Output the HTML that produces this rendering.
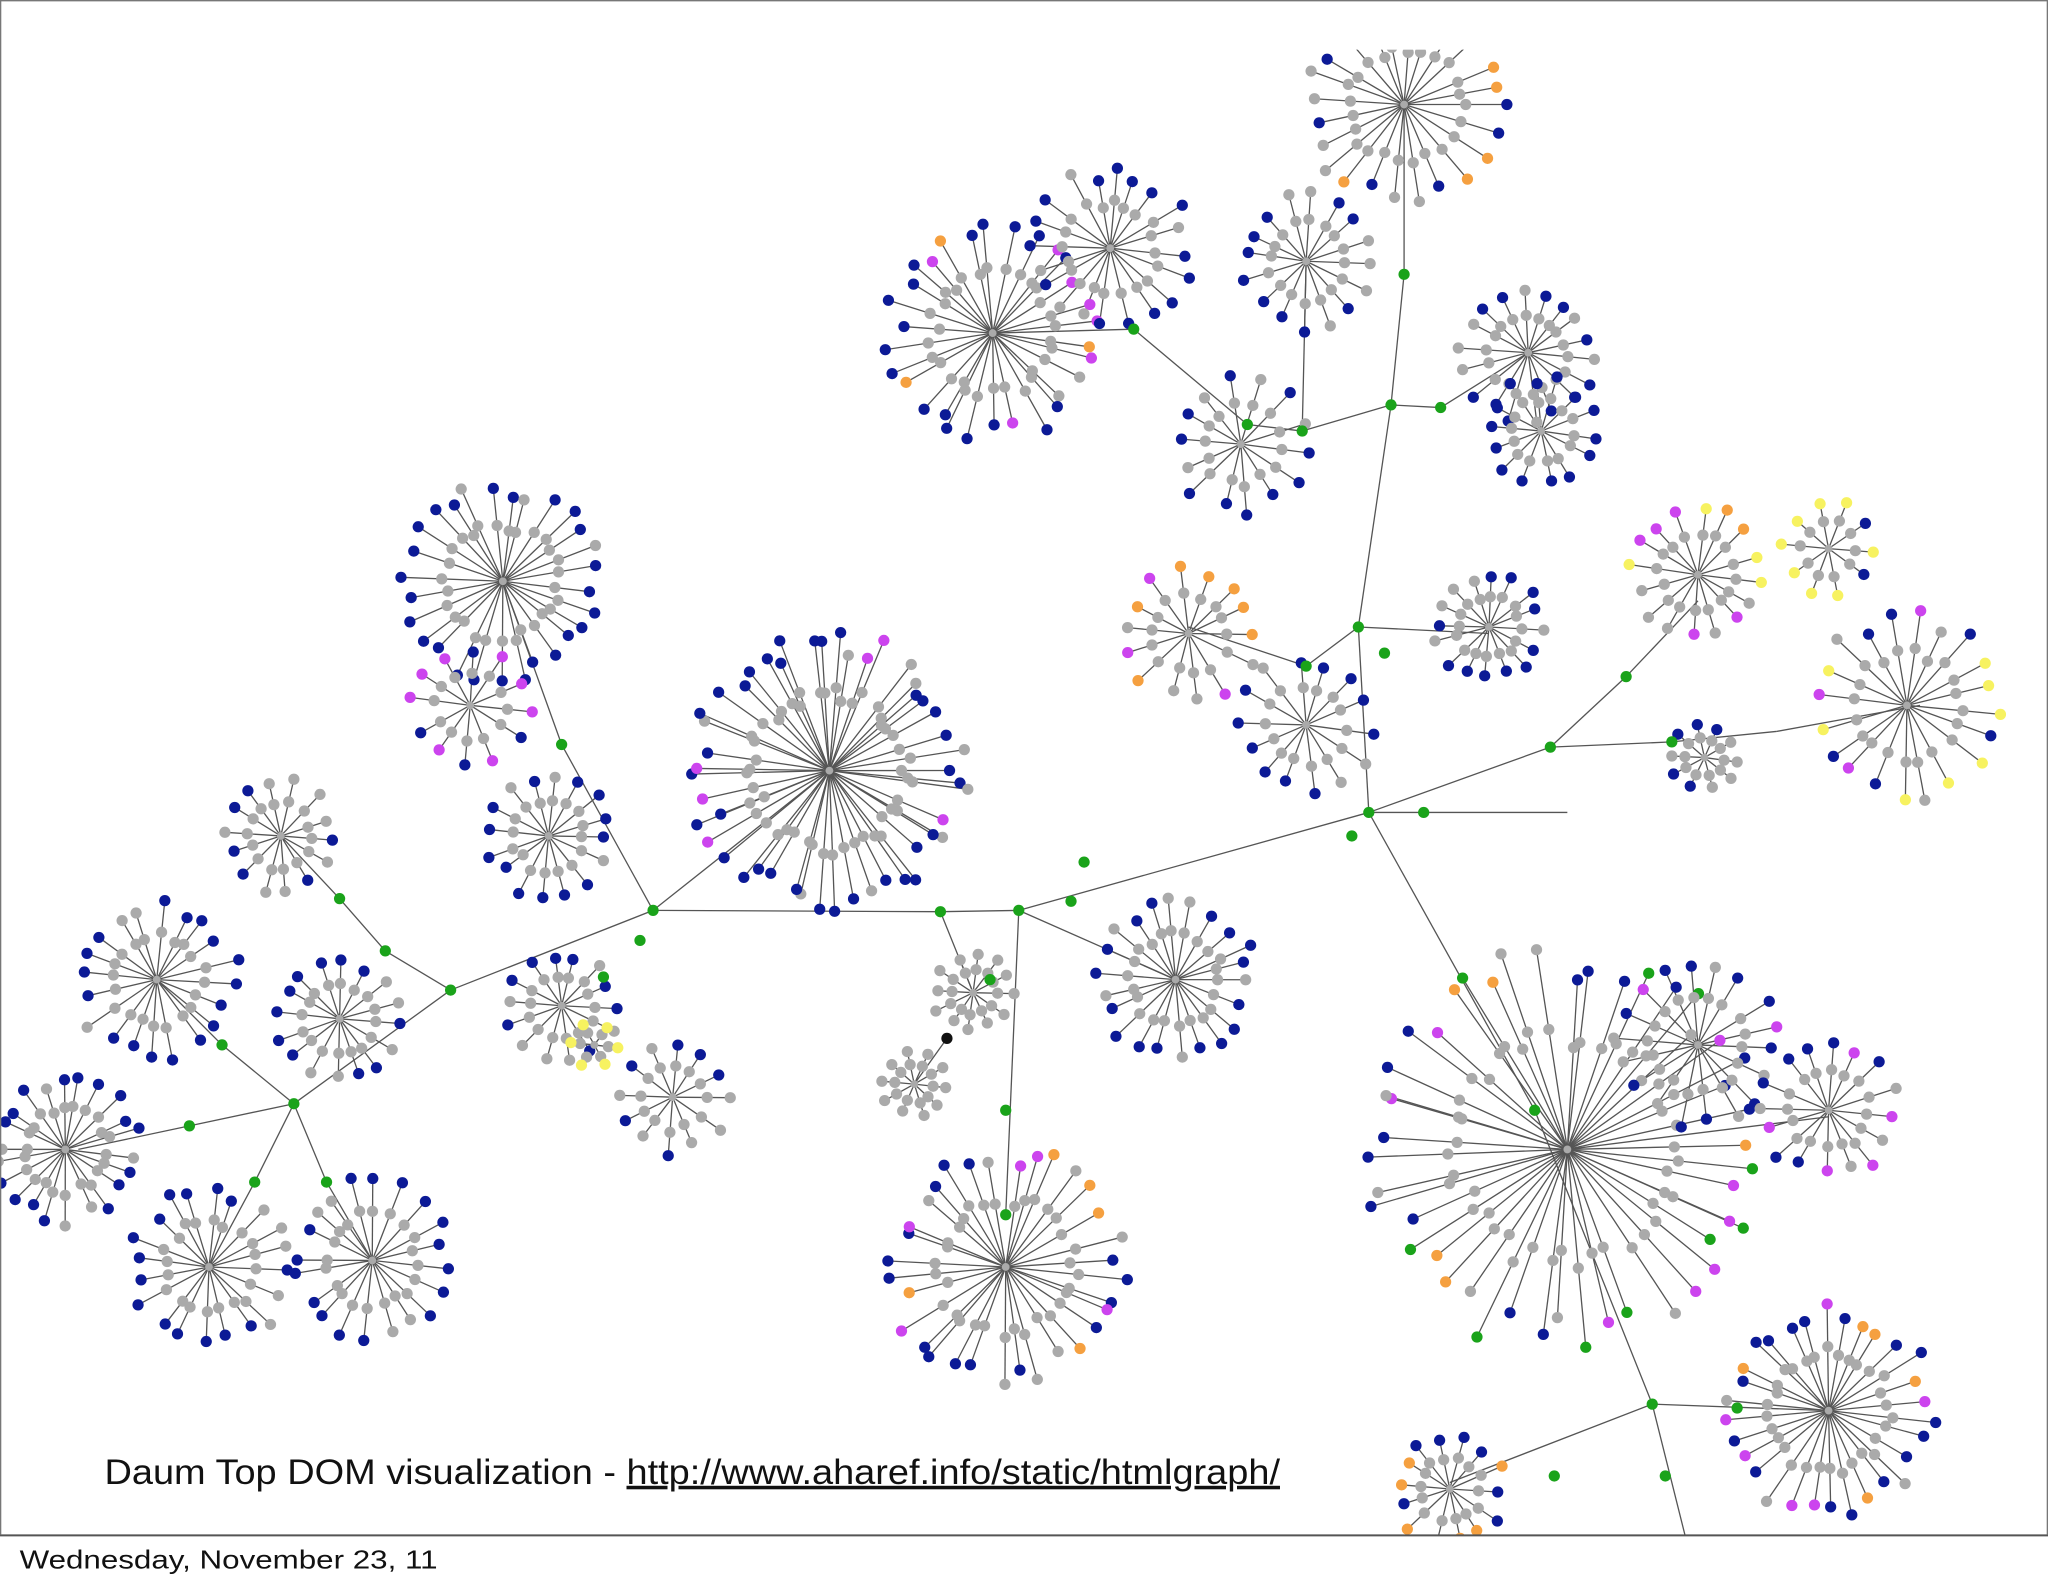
<!DOCTYPE html>
<html><head><meta charset="utf-8"><style>
html,body{margin:0;padding:0;background:#fff;}
svg{display:block;}
</style></head><body>
<svg id="s" xmlns="http://www.w3.org/2000/svg" width="2048" height="1587" viewBox="0 0 1568 1215">
<rect x="0" y="0" width="1568" height="1215" fill="#fff"/>
<g id="edges" stroke="#555" stroke-width="1" fill="none"></g>
<g id="nodes"></g>
<rect x="0" y="1176" width="1568" height="40" fill="#fff"/>
<rect x="0" y="0" width="1568" height="38" fill="#fff"/>
<line x1="0" y1="1175.5" x2="1568" y2="1175.5" stroke="#555" stroke-width="1.5"/>
<line x1="0.5" y1="0" x2="0.5" y2="1175" stroke="#777" stroke-width="1"/>
<line x1="0" y1="0.5" x2="1568" y2="0.5" stroke="#777" stroke-width="1"/>
<line x1="1567.5" y1="0" x2="1567.5" y2="1175" stroke="#777" stroke-width="1"/>
<text x="80" y="1136" font-family="Liberation Sans, sans-serif" font-size="27" fill="#111" textLength="900" lengthAdjust="spacingAndGlyphs">Daum Top DOM visualization - <tspan text-decoration="underline">http://www.aharef.info/static/htmlgraph/</tspan></text>
<text x="15" y="1201" font-family="Liberation Sans, sans-serif" font-size="20" fill="#111" textLength="320" lengthAdjust="spacingAndGlyphs">Wednesday, November 23, 11</text>
</svg>
<script>
(function(){
var NS="http://www.w3.org/2000/svg";
var E=document.getElementById("edges"),N=document.getElementById("nodes");
var seed=7;function rnd(){seed=(seed*16807)%2147483647;return seed/2147483647;}
var C={g:"#aaaaaa",b:"#0c1a96",G:"#1aa31a",m:"#cc44ee",o:"#f5a040",y:"#f7f260",k:"#111"};
var nodes=[];
function line(a,b,c,d){var l=document.createElementNS(NS,"line");l.setAttribute("x1",a.toFixed(1));l.setAttribute("y1",b.toFixed(1));l.setAttribute("x2",c.toFixed(1));l.setAttribute("y2",d.toFixed(1));E.appendChild(l);}
function dot(x,y,c,r){nodes.push([x,y,c,r||4.3]);}
function cluster(cx,cy,r,n,pal){
  for(var i=0;i<n;i++){
    var a=i/n*Math.PI*2+rnd()*0.15;
    var rr=r*(0.8+rnd()*0.2);
    var mx=cx+Math.cos(a)*rr*0.6,my=cy+Math.sin(a)*rr*0.6;
    var ex=cx+Math.cos(a)*rr,ey=cy+Math.sin(a)*rr;
    line(cx,cy,ex,ey);
    dot(mx,my,C.g);
    dot(ex,ey,C[pal.charAt(Math.floor(rnd()*pal.length))]);
  }
  dot(cx,cy,C.g,3);
}
var spine=[[60,880],[145,862],[225,845],[345,758],[500,697],[720,698],[780,697],[1048,622],[1187,572],[1280,568],[1360,560],[1470,540]];
var lines=[spine,
[[1048,622],[1040,480],[1065,310],[1075,210],[1075,80]],
[[1048,622],[1175,850],[1265,1075],[1290,1175]],
[[780,697],[770,930]],
[[500,697],[430,570],[385,445]],
[[225,845],[195,905],[160,970]],[[225,845],[250,905],[285,965]],
[[225,845],[170,800],[120,750]],[[345,758],[295,728],[260,688],[215,640]],
[[1187,572],[1245,518],[1300,460]],
[[868,252],[760,255]],[[868,252],[955,325],[997,330],[1065,310],[1103,312],[1170,270]],
[[997,330],[1000,200]],[[1048,622],[1200,622]],
[[1200,880],[1400,855]],[[1265,1075],[1400,1080]],[[1265,1075],[1110,1135]],
[[720,698],[745,760]],[[725,795],[700,830]],[[500,697],[635,590]],[[780,697],[900,750]],
[[1040,480],[1000,510],[910,480]],[[1040,480],[1140,485]]];
lines.forEach(function(pl){for(var i=0;i<pl.length-1;i++)line(pl[i][0],pl[i][1],pl[i+1][0],pl[i+1][1]);});
var cl=[[1075,80,80,24,"gbbog"],[760,255,85,30,"bbmmogb"],[850,190,65,20,"bbgb"],[1000,200,55,16,"bbg"],
[1170,270,55,18,"bbgb"],[1180,330,45,14,"bb"],[950,340,55,14,"bgb"],[385,445,80,28,"bbgb"],
[360,540,50,12,"mmbb"],[420,640,50,16,"bbgb"],[635,590,110,48,"bbbbgmb"],[215,640,45,14,"bbg"],
[120,750,65,20,"bbg"],[260,780,50,16,"bbg"],[50,880,60,22,"bbg"],[160,970,65,20,"bbg"],
[285,965,65,20,"bbg"],[430,770,45,14,"bbg"],[515,840,45,12,"bbg"],[455,800,20,6,"yy"],
[745,760,32,12,"gg"],[700,830,26,10,"gg"],[900,750,65,22,"bbgb"],[770,970,95,32,"bbbmog"],
[910,485,55,14,"ombg"],[1140,480,45,16,"bbg"],[1000,555,55,14,"bbg"],[1300,440,55,16,"yobgm"],
[1400,420,38,10,"yyb"],[1305,580,28,10,"bbg"],[1460,540,75,20,"bbgym"],[1200,880,160,46,"bbbmgoG"],
[1300,800,65,18,"bbmg"],[1400,850,55,16,"bbmg"],[1400,1080,85,30,"bbogm"],[1110,1140,45,14,"obb"]];
cl.forEach(function(c){cluster(c[0],c[1],c[2],c[3],c[4]);});
var gj=[[145,862],[225,845],[345,758],[195,905],[250,905],[170,800],[295,728],[260,688],[500,697],[430,570],[720,698],[780,697],[758,750],[770,850],[770,930],[1048,622],[1187,572],[1280,568],[1245,518],[1040,480],[1065,310],[1075,210],[997,330],[955,325],[868,252],[1103,312],[1175,850],[1265,1075],[1330,1078],[1190,1130],[1275,1130],[462,748],[490,720],[820,690],[830,660],[1060,500],[1000,510],[1035,640],[1090,622]];
gj.forEach(function(p){dot(p[0],p[1],C.G);});
dot(725,795,C.k);
nodes.forEach(function(n){var c=document.createElementNS(NS,"circle");c.setAttribute("cx",n[0].toFixed(1));c.setAttribute("cy",n[1].toFixed(1));c.setAttribute("r",n[3]);c.setAttribute("fill",n[2]);N.appendChild(c);});
})();
</script>
</body></html>
